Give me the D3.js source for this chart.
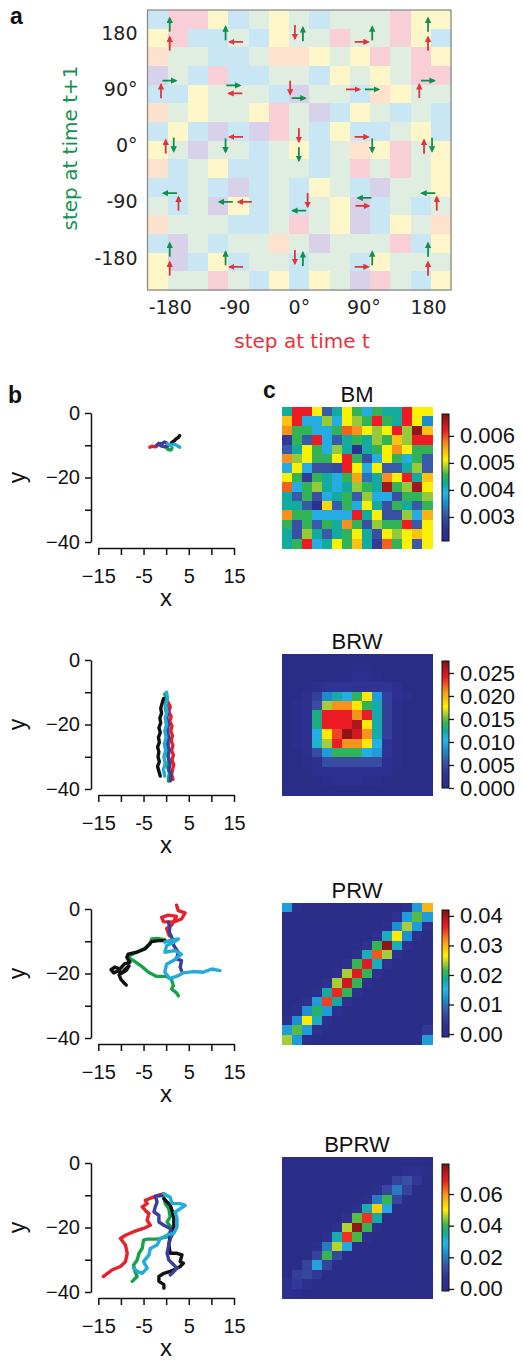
<!DOCTYPE html>
<html>
<head>
<meta charset="utf-8">
<script src="https://cdn.jsdelivr.net/npm/d3@7"></script>
<style>
body { margin: 0; background: #fff; }
</style>
</head>
<body>
<svg id="fig" width="523" height="1363"></svg>
<script>
// ---------- panel a : step-angle grid ----------
var angleTicks = [-180, -90, 0, 90, 180];
var xTickLabelsA = ["-180", "-90", "0°", "90°", "180"];
var yTickValsA = [180, 90, 0, -90, -180];
var yTickLabelsA = ["180", "90°", "0°", "-90", "-180"];
// background cells, one letter per cell (B blue, G green, Y yellow, P pink, L lavender, O peach)
var gridRows = [
  "BPPYBGYGBGGGPYY",
  "YPBBGBYGGPGGPYB",
  "OGGBBGOOYGYPGPY",
  "LGBPBBGGBYGYGPP",
  "BBYGGGBLGGBOYGG",
  "OGYGGYPGLBYGBGB",
  "BYBLBLPGBYBBGYB",
  "YGLGGBGYBGOYPGY",
  "OBGYBBGGBGPGPGY",
  "BBGBLBGBYGBLGGY",
  "GBGLYBGBGYLBGBG",
  "OGGGBBGPGYLBYGO",
  "BLGBGGOGLGGGPBY",
  "YLBYBGGBGGBYGGG",
  "YGGPGBYBYGLPGBY"
];

// ---------- panel b : trajectories (x, y) ----------
var trajBM = {
  red:   [[-3.6,-10.6],[-3.0,-10.3],[-2.4,-10.5],[-2.0,-10.2]],
  green: [[0,-10.6],[0.4,-11.3],[1.0,-11.5],[1.3,-10.9]],
  black: [[1.2,-9.2],[1.8,-8.6],[2.2,-8.0],[2.7,-7.6],[3.0,-7.0]],
  blue:  [[-2.1,-10.0],[-1.6,-9.4],[-1.0,-9.6],[-0.4,-9.0],[0.1,-9.3],[0.4,-10.2],[-0.3,-10.5],[-1.2,-10.2]],
  cyan:  [[0.3,-9.6],[1.0,-10.0],[1.8,-9.7],[2.4,-10.1],[3.0,-10.6],[2.6,-10.2]]
};
var trajBRW = {
  red:   [[0.4,-13],[0.9,-14.5],[0.6,-16],[1.1,-17.5],[0.8,-19],[1.3,-20.5],[1.0,-22],[1.4,-23.5],[1.1,-25],[1.5,-26.5],[1.2,-28],[1.6,-29.5],[1.3,-31],[1.7,-32.5],[1.4,-34],[1.2,-35.5],[1.5,-37]],
  green: [[-0.3,-10.5],[0,-12.5],[-0.2,-15],[0.2,-17],[0,-19.5],[0.4,-21.5],[0.1,-24],[0.5,-26],[0.2,-28.5],[0.6,-30.5],[0.3,-33],[0.7,-35],[0.5,-37.5]],
  black: [[-0.6,-12],[-0.9,-13.5],[-1.2,-15],[-1.0,-16.5],[-1.4,-18],[-1.2,-19.5],[-1.6,-21],[-1.3,-22.5],[-1.7,-24],[-1.5,-25.5],[-1.9,-27],[-1.6,-28.5],[-1.8,-30],[-1.5,-31.5],[-1.9,-33],[-1.6,-34.5],[-1.3,-36]],
  blue:  [[0,-14],[0.4,-16],[0.1,-18],[0.5,-20],[0.2,-22],[0.6,-24],[0.3,-26],[0.7,-28],[0.4,-30],[0.9,-32],[0.6,-34],[1.1,-35.5],[0.9,-37.5]],
  cyan:  [[0.1,-10],[0.3,-12],[-0.1,-14],[0.2,-16],[-0.2,-18],[0.1,-20],[-0.3,-22],[0,-24],[-0.4,-26],[-0.1,-28],[-0.5,-30],[-0.2,-32],[-0.6,-34],[-0.3,-36]]
};
var trajPRW = {
  red:   [[0.7,-8.3],[0.1,-6.0],[1.2,-5.0],[2.3,-2.3],[0.5,-1.9],[-1.0,-2.6],[-0.6,-3.9],[1.6,-4.1],[3.4,-3.1],[4.2,-1.2],[2.7,-0.5],[2.3,1.2]],
  green: [[-0.3,-9.5],[-2.1,-9.1],[-3.2,-9.3],[-3.6,-10.9],[-4.7,-12.2],[-6.2,-13.2],[-8.0,-14.3],[-8.1,-15.3],[-6.9,-16.3],[-5.4,-17.8],[-3.9,-19.6],[-2.1,-20.9],[0.1,-20.9],[1.2,-21.9],[1.6,-23.8],[1.2,-24.8],[2.3,-26.0],[2.7,-26.9]],
  black: [[-0.3,-9.8],[-1.7,-9.8],[-3.2,-10.1],[-4.7,-12.4],[-6.5,-13.4],[-8.4,-14.0],[-8.7,-15.0],[-8.0,-16.5],[-9.2,-17.0],[-10.2,-18.6],[-11.3,-18.0],[-12.2,-18.8],[-11.6,-19.8],[-10.6,-19.2],[-9.8,-19.8],[-9.0,-18.6],[-8.2,-17.6],[-8.8,-19.0],[-10.4,-20.4],[-10.0,-21.8],[-9.4,-22.8],[-8.8,-23.6]],
  blue:  [[0.5,-4.1],[0.8,-5.7],[0.7,-7.2],[1.4,-9.3],[1.7,-11.4],[2.7,-13.4],[2.3,-15.5],[3.4,-16.0],[3.1,-18.1],[3.4,-19.1]],
  cyan:  [[-0.3,-10.3],[0.8,-9.8],[2.7,-9.3],[1.6,-10.3],[0.1,-11.4],[-0.3,-13.4],[1.9,-12.9],[3.4,-14.0],[1.6,-16.0],[0.1,-17.1],[-0.3,-19.6],[0.8,-21.5],[2.3,-20.9],[3.8,-19.8],[6.0,-19.4],[8.2,-19.6],[10.1,-18.6],[11.9,-19.1]]
};
var trajBPRW = {
  red:   [[-0.5,-9.5],[-2.0,-10.1],[-3.8,-11.1],[-4.6,-11.6],[-4.2,-12.6],[-5.3,-13.6],[-4.6,-14.7],[-3.8,-15.7],[-4.2,-17.7],[-3.5,-19.3],[-5.0,-20.3],[-7.2,-21.3],[-9.0,-22.4],[-10.1,-23.4],[-9.0,-25.4],[-8.6,-28.0],[-9.0,-30.6],[-10.1,-32.1],[-11.9,-33.1],[-13.4,-34.7],[-13.9,-35.2]],
  green: [[-0.5,-10.6],[-0.2,-12.6],[0.6,-14.2],[0.9,-16.7],[0.2,-18.3],[1.3,-20.3],[0.2,-22.9],[-2.0,-23.6],[-4.2,-23.6],[-5.0,-23.9],[-5.3,-26.5],[-6.0,-28.0],[-6.4,-30.1],[-7.2,-31.6],[-6.9,-33.6],[-6.4,-35.2],[-7.5,-36.7]],
  black: [[-0.5,-11.1],[0.9,-13.1],[1.3,-14.7],[1.7,-17.2],[1.7,-19.8],[0.9,-22.4],[0.6,-25.4],[0.9,-28.0],[2.4,-28.0],[3.5,-28.5],[3.1,-30.6],[3.8,-31.1],[3.1,-32.1],[1.7,-33.1],[0.9,-33.6],[-0.5,-34.2],[-1.6,-35.2],[-1.6,-36.7],[-0.5,-37.7],[-0.5,-38.8]],
  blue:  [[-0.9,-10.1],[-2.4,-10.3],[-2.0,-12.1],[-2.4,-13.6],[-2.7,-15.2],[-1.6,-16.2],[-1.6,-18.3],[-0.5,-19.3],[0.9,-20.3],[1.3,-22.4],[0.9,-23.4],[0.6,-25.4],[0.2,-28.0],[0.6,-30.1],[1.7,-31.6],[2.4,-32.6],[1.3,-34.2],[0.9,-34.7]],
  cyan:  [[-0.5,-9.5],[0.9,-10.6],[1.3,-12.6],[3.1,-12.6],[4.2,-13.1],[3.1,-14.2],[2.0,-15.2],[2.4,-17.2],[2.4,-19.8],[1.7,-21.8],[0.2,-22.4],[-1.3,-23.4],[-2.0,-25.4],[-3.5,-26.5],[-3.8,-28.5],[-5.0,-30.6],[-4.2,-32.6],[-5.3,-34.2],[-6.4,-33.6],[-7.2,-32.6]]
};
var bYTicks = [0, -10, -20, -30, -40];
var bYLabels = ["0", "", "\u221220", "", "\u221240"];
var bXTicks = [-15, -10, -5, 0, 5, 10, 15];
var bXLabels = ["\u221215", "", "-5", "", "5", "", "15"];

// ---------- panel c : heatmaps ----------
var heatBM = [ // x 1e-4
  [42,62,62,51,31,42,51,45,38,45,42,42,62,51,51],
  [54,62,38,38,48,38,51,48,45,62,45,42,62,51,35],
  [57,45,45,38,38,45,59,57,51,48,51,62,48,67,54],
  [27,45,31,62,38,31,42,45,42,48,45,54,48,62,62],
  [31,42,51,45,38,48,42,25,42,45,51,57,51,45,45],
  [57,48,51,45,45,51,62,45,30,38,51,45,38,45,31],
  [38,51,38,30,30,29,62,51,38,51,31,31,42,48,31],
  [51,45,27,45,42,38,45,56,33,42,57,51,62,42,54],
  [59,38,45,48,42,38,42,48,45,42,66,45,48,66,51],
  [42,31,45,30,38,42,45,31,48,38,38,30,45,45,48],
  [42,42,31,25,53,31,45,38,51,42,30,45,42,31,45],
  [57,45,45,38,38,38,38,62,42,51,30,30,48,38,55],
  [45,30,45,31,45,42,57,45,30,48,45,45,62,31,51],
  [42,30,48,42,31,42,45,51,42,30,51,48,51,54,51],
  [42,45,62,38,42,51,45,54,42,27,59,45,51,31,51]
];
var heatBRW = [ // x 1e-3
  [0,0,0,0,0,0,0,0,0,0,0,0,0,0,0],
  [0,0,0,0,0,0,0,1,1,0,0,0,0,0,0],
  [0,0,0,0,0,0,0,2,2,1,0,0,0,0,0],
  [0,0,0,2,3,3,3,3,3,3,3,2,0,0,0],
  [0,0,2,4,8,12,10,14,18,9,4,2,1,0,0],
  [0,1,2,5,16,21,21,18,14,12,4,1,0,0,0],
  [0,1,2,13,24,24,24,21,24,12,4,1,0,0,0],
  [0,1,2,13,24,24,24,26,18,12,4,1,0,0,0],
  [0,1,2,10,18,23,27,25,21,12,4,1,0,0,0],
  [0,1,2,11,16,24,21,21,18,10,3,1,0,0,0],
  [0,0,2,5,9,14,14,14,10,9,3,1,0,0,0],
  [0,0,1,2,5,5,5,5,5,5,2,1,0,0,0],
  [0,0,0,2,2,2,2,2,2,2,2,0,0,0,0],
  [0,0,0,0,1,2,2,2,1,1,0,0,0,0,0],
  [0,0,0,0,0,0,0,0,0,0,0,0,0,0,0]
];
var heatPRW = [ // x 1e-3
  [13,1,0,0,0,0,0,0,0,0,0,0,2,13,30],
  [0,0,0,0,0,0,0,0,0,0,0,3,13,22,13],
  [0,0,0,0,0,0,0,0,0,0,2,12,24,13,2],
  [0,0,0,0,0,0,0,0,0,2,17,27,12,2,0],
  [0,0,0,0,0,0,0,0,3,21,41,17,3,0,0],
  [0,0,0,0,0,0,0,2,17,34,24,3,0,0,0],
  [0,0,0,0,0,0,2,21,37,17,3,0,0,0,0],
  [0,0,0,0,0,2,24,37,21,3,0,0,0,0,0],
  [0,0,0,0,2,24,38,21,3,0,0,0,0,0,0],
  [0,0,0,2,18,36,21,3,0,0,0,0,0,0,0],
  [0,0,2,13,35,18,3,0,0,0,0,0,0,0,0],
  [0,2,12,20,13,3,0,0,0,0,0,0,0,0,0],
  [2,12,27,17,3,0,0,0,0,0,0,0,0,0,0],
  [13,22,13,3,0,0,0,0,0,0,0,0,0,0,4],
  [24,13,1,0,0,0,0,0,0,0,0,0,0,0,13]
];
var heatBPRW = [ // x 1e-3
  [0,0,0,0,0,0,0,0,0,0,0,0,0,0,0],
  [0,0,0,0,0,0,0,0,0,0,0,0,5,5,2],
  [0,0,0,0,0,0,0,0,0,0,0,11,14,8,0],
  [0,0,0,0,0,0,0,0,0,3,12,20,11,0,0],
  [0,0,0,0,0,0,0,0,2,20,40,12,0,0,0],
  [0,0,0,0,0,0,0,5,33,54,27,0,0,0,0],
  [0,0,0,0,0,0,6,42,67,34,0,0,0,0,0],
  [0,0,0,0,0,6,46,77,40,5,0,0,0,0,0],
  [0,0,0,0,5,33,67,41,4,0,0,0,0,0,0],
  [0,0,0,5,20,46,27,0,0,0,0,0,0,0,0],
  [0,0,0,11,40,12,0,0,0,0,0,0,0,0,0],
  [0,0,11,26,11,0,0,0,0,0,0,0,0,0,0],
  [0,10,12,8,0,0,0,0,0,0,0,0,0,0,0],
  [6,9,4,0,0,0,0,0,0,0,0,0,0,0,0],
  [4,3,0,0,0,0,0,0,0,0,0,0,0,0,0]
];
var heatNames = ["BM", "BRW", "PRW", "BPRW"];
var heatUnits = [1e-4, 1e-3, 1e-3, 1e-3];
var heatRanges = [[21.1, 68.1], [0, 27.6], [-1, 42], [-1.3, 79]];
var cbTicks = [
  [0.003, 0.004, 0.005, 0.006],
  [0, 0.005, 0.010, 0.015, 0.020, 0.025],
  [0, 0.01, 0.02, 0.03, 0.04],
  [0, 0.02, 0.04, 0.06]
];
var cbFormats = [".3f", ".3f", ".2f", ".2f"];

// ---------- drawing ----------
var svg = d3.select("#fig");
svg.append("rect").attr("width", 523).attr("height", 1363).attr("fill", "#fff");

var sansA = "'DejaVu Sans', Verdana, sans-serif";
var sansB = "'Liberation Sans', Arial, Helvetica, sans-serif";

// panel a
var xA = d3.scaleLinear().domain([-211, 212]).range([147.5, 451]);
var yA = d3.scaleLinear().domain([-231, 217]).range([290, 10]);
var colA = d3.scaleBand().domain(d3.range(15)).range([147.5, 451]);
var rowA = d3.scaleBand().domain(d3.range(15)).range([10, 290]);
var pastel = {B: "#c9e6f4", G: "#dfeee0", Y: "#fdf6c9", P: "#f8cfd6", L: "#d7d2ea", O: "#fde2ce"};

var ga = svg.append("g");
ga.selectAll("g.row").data(gridRows).join("g").attr("class", "row")
  .each(function(row, i) {
    d3.select(this).selectAll("rect").data(row.split("")).join("rect")
      .attr("x", function(d, j) { return colA(j); })
      .attr("y", rowA(i))
      .attr("width", colA.bandwidth() + 0.6)
      .attr("height", rowA.bandwidth() + 0.6)
      .attr("shape-rendering", "crispEdges")
      .attr("fill", function(d) { return pastel[d]; });
  });
ga.append("rect").attr("x", 147.5).attr("y", 10).attr("width", 303.5).attr("height", 280)
  .attr("fill", "none").attr("stroke", "#8c8c8c").attr("stroke-width", 1.3);

var redA = "#e0353b", greenA = "#10904e";
var defs = svg.append("defs");
[["headR", redA], ["headG", greenA]].forEach(function(m) {
  defs.append("marker").attr("id", m[0]).attr("markerUnits", "userSpaceOnUse")
    .attr("markerWidth", 8).attr("markerHeight", 8).attr("refX", 5).attr("refY", 3.2)
    .attr("orient", "auto")
    .append("path").attr("d", "M0,0L6.5,3.2L0,6.4Z").attr("fill", m[1]);
});

var L = 16;
function dirOf(a) { var r = a * Math.PI / 180; return [Math.sin(r), Math.cos(r)]; }
var arrows = [];
d3.cross(angleTicks, yTickValsA).forEach(function(p) {
  var cx = xA(p[0]), cy = yA(p[1]);
  var r = dirOf(p[0]), g = dirOf(p[1]);
  var dot = r[0] * g[0] + r[1] * g[1];
  if (dot < -0.5) {
    var off = Math.abs(r[1]) > 0.5 ? [-4, 0] : [0, 4];
    arrows.push({c: "R", x1: cx + off[0] - r[0] * L / 2, y1: cy + off[1] - r[1] * L / 2, x2: cx + off[0] + r[0] * L / 2, y2: cy + off[1] + r[1] * L / 2});
    arrows.push({c: "G", x1: cx - off[0] - g[0] * L / 2, y1: cy - off[1] - g[1] * L / 2, x2: cx - off[0] + g[0] * L / 2, y2: cy - off[1] + g[1] * L / 2});
  } else {
    var gap = [(r[0] + g[0]) * 1.5, (r[1] + g[1]) * 1.5];
    var sx = cx - (r[0] * L + g[0] * L + gap[0]) / 2;
    var sy = cy - (r[1] * L + g[1] * L + gap[1]) / 2;
    var mx = sx + r[0] * L, my = sy + r[1] * L;
    arrows.push({c: "R", x1: sx, y1: sy, x2: mx, y2: my});
    arrows.push({c: "G", x1: mx + gap[0], y1: my + gap[1], x2: mx + gap[0] + g[0] * L, y2: my + gap[1] + g[1] * L});
  }
});
ga.selectAll("line.arrow").data(arrows).join("line").attr("class", "arrow")
  .attr("x1", function(d) { return d.x1; }).attr("y1", function(d) { return d.y1; })
  .attr("x2", function(d) { return d.x2 - (d.x2 - d.x1) * 0.15; })
  .attr("y2", function(d) { return d.y2 - (d.y2 - d.y1) * 0.15; })
  .attr("stroke", function(d) { return d.c === "R" ? redA : greenA; })
  .attr("stroke-width", 1.8)
  .attr("marker-end", function(d) { return d.c === "R" ? "url(#headR)" : "url(#headG)"; });

var axA = svg.append("g").attr("transform", "translate(147.5,0)")
  .call(d3.axisLeft(yA).tickValues(yTickValsA).tickSize(0).tickPadding(10)
    .tickFormat(function(d, i) { return yTickLabelsA[i]; }));
var axAx = svg.append("g").attr("transform", "translate(0,290)")
  .call(d3.axisBottom(xA).tickValues(angleTicks).tickSize(0).tickPadding(11)
    .tickFormat(function(d, i) { return xTickLabelsA[i]; }));
[axA, axAx].forEach(function(ax) {
  ax.select(".domain").remove();
  ax.selectAll("text").attr("font-family", sansA).attr("font-size", 19).attr("fill", "#222");
});
svg.append("text").attr("x", 302).attr("y", 348).attr("text-anchor", "middle")
  .attr("font-family", sansA).attr("font-size", 20).attr("fill", "#e8303c").text("step at time t");
svg.append("text").attr("transform", "translate(77,148) rotate(-90)").attr("text-anchor", "middle")
  .attr("font-family", sansA).attr("font-size", 20).attr("fill", "#13934f").text("step at time t+1");

// panel labels
[["a", 10, 24], ["b", 8, 403], ["c", 263, 398]].forEach(function(l) {
  svg.append("text").attr("x", l[1]).attr("y", l[2]).attr("font-family", sansB)
    .attr("font-weight", "bold").attr("font-size", 23).attr("fill", "#111").text(l[0]);
});

// panel b
var panelTops = [407, 654, 903, 1157];
var trajs = [trajBM, trajBRW, trajPRW, trajBPRW];
var trajColors = {red: "#e52129", green: "#17a24a", black: "#111111", blue: "#3a3f9e", cyan: "#23acd9"};
var xB = d3.scaleLinear().domain([-15, 15]).range([98.3, 234]);
var line = d3.line().x(function(d) { return xB(d[0]); });

trajs.forEach(function(tr, k) {
  var T = panelTops[k];
  var yB = d3.scaleLinear().domain([0, -40]).range([T + 6, T + 135]);
  var g = svg.append("g");
  Object.keys(tr).forEach(function(key) {
    g.append("path").datum(tr[key])
      .attr("d", line.y(function(d) { return yB(d[1]); }))
      .attr("fill", "none").attr("stroke", trajColors[key]).attr("stroke-width", 3.4)
      .attr("stroke-linejoin", "round").attr("stroke-linecap", "round");
  });
  var ay = g.append("g").attr("transform", "translate(91,0)")
    .call(d3.axisLeft(yB).tickValues(bYTicks).tickSize(6).tickSizeOuter(0).tickPadding(5)
      .tickFormat(function(d, i) { return bYLabels[i]; }));
  var ax = g.append("g").attr("transform", "translate(0," + (T + 141) + ")")
    .call(d3.axisBottom(xB).tickValues(bXTicks).tickSize(7).tickSizeOuter(0).tickPadding(14)
      .tickFormat(function(d, i) { return bXLabels[i]; }));
  [ay, ax].forEach(function(a) {
    a.selectAll("path, line").attr("stroke", "#111").attr("stroke-width", 1.5);
    a.selectAll("text").attr("font-family", sansB).attr("font-size", 20).attr("fill", "#111");
  });
  g.append("text").attr("x", 166).attr("y", T + 199).attr("text-anchor", "middle")
    .attr("font-family", sansB).attr("font-size", 24).attr("fill", "#111").text("x");
  g.append("text").attr("transform", "translate(25," + yB(-20) + ") rotate(-90)")
    .attr("text-anchor", "middle").attr("font-family", sansB).attr("font-size", 23)
    .attr("fill", "#111").text("y");
});

// panel c
var jetStops = [0, 0.1, 0.2, 0.3, 0.375, 0.45, 0.52, 0.58, 0.64, 0.76, 0.87, 1];
var jetColors = ["#2a2d86", "#2e3192", "#3a54a4", "#1c8fd0", "#27b4e6", "#12a99b",
                 "#3ab54a", "#a5cd39", "#fff200", "#f7941d", "#ed1c24", "#7a1416"];
var xH = d3.scaleBand().domain(d3.range(15)).range([282, 432]);
var heats = [heatBM, heatBRW, heatPRW, heatBPRW];

heats.forEach(function(hm, k) {
  var T = panelTops[k];
  var lo = heatRanges[k][0], hi = heatRanges[k][1];
  var color = d3.scaleLinear()
    .domain(jetStops.map(function(t) { return lo + t * (hi - lo); }))
    .range(jetColors).clamp(true);
  var yH = d3.scaleBand().domain(d3.range(15)).range([T, T + 141]);
  var g = svg.append("g");
  hm.forEach(function(row, i) {
    g.selectAll(null).data(row).join("rect")
      .attr("x", function(d, j) { return xH(j); })
      .attr("y", yH(i))
      .attr("width", xH.bandwidth() + 0.8)
      .attr("height", yH.bandwidth() + 0.8)
      .attr("shape-rendering", "crispEdges")
      .attr("fill", function(d) { return color(d); });
  });
  g.append("text").attr("x", 357).attr("y", T - 5).attr("text-anchor", "middle")
    .attr("font-family", sansB).attr("font-size", 22).attr("fill", "#111").text(heatNames[k]);

  // colorbar
  var gid = "cb" + k;
  var grad = defs.append("linearGradient").attr("id", gid)
    .attr("x1", 0).attr("y1", 1).attr("x2", 0).attr("y2", 0);
  grad.selectAll("stop").data(jetStops).join("stop")
    .attr("offset", function(t) { return t; })
    .attr("stop-color", function(t, i) { return jetColors[i]; });
  var cbTop = T + 7, cbBot = T + 134;
  g.append("rect").attr("x", 442).attr("y", cbTop).attr("width", 7).attr("height", cbBot - cbTop)
    .attr("fill", "url(#" + gid + ")").attr("stroke", "#111").attr("stroke-width", 1);
  var cs = d3.scaleLinear().domain([lo * heatUnits[k], hi * heatUnits[k]]).range([cbBot, cbTop]);
  var ca = g.append("g").attr("transform", "translate(449,0)")
    .call(d3.axisRight(cs).tickValues(cbTicks[k]).tickSize(5).tickSizeOuter(0).tickPadding(6)
      .tickFormat(d3.format(cbFormats[k])));
  ca.select(".domain").remove();
  ca.selectAll("line").attr("stroke", "#111").attr("stroke-width", 1.3);
  ca.selectAll("text").attr("font-family", sansB).attr("font-size", 22).attr("fill", "#111");
});
</script>
</body>
</html>
